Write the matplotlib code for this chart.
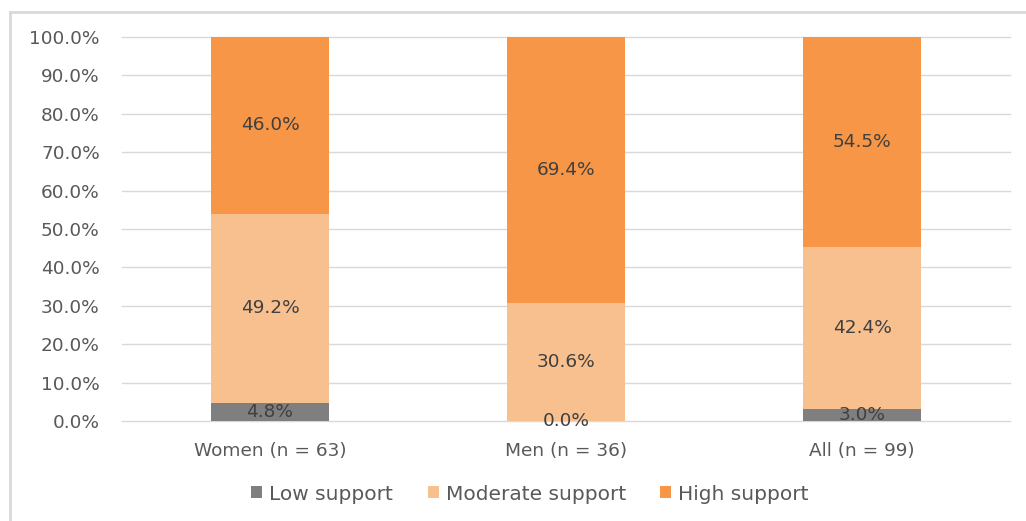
import matplotlib
matplotlib.use("Agg")
import matplotlib.pyplot as plt
from matplotlib.lines import Line2D
import numpy as np

categories = ["Women (n = 63)", "Men (n = 36)", "All (n = 99)"]
series_names = ["Low support", "Moderate support", "High support"]
low = [4.8, 0.0, 3.0]
moderate = [49.2, 30.6, 42.4]
high = [46.0, 69.4, 54.5]
yticks = [0, 10, 20, 30, 40, 50, 60, 70, 80, 90, 100]

colors = ["#7f7f7f", "#f9c08f", "#f79646"]
text_color = "#595959"
fs = 13.3

plt.rcParams["font.family"] = ["DejaVu Sans"]

fig = plt.figure(figsize=(10.26, 5.21), dpi=100)
ax = fig.add_axes([122 / 1026, 1 - 421 / 521, (1010 - 122) / 1026, (421 - 37) / 521])

x = np.arange(len(categories))
width = 0.4
bottom = np.zeros(len(categories))
for name, vals, col in zip(series_names, [low, moderate, high], colors):
    vals = np.array(vals)
    ax.bar(x, vals, width, bottom=bottom, color=col, label=name, zorder=3)
    for xi, b, v in zip(x, bottom, vals):
        ax.text(xi, b + v / 2, f"{v:.1f}%", ha="center", va="center",
                fontsize=fs, color="#404040", zorder=4)
    bottom = bottom + vals

ax.set_xlim(-0.5, 2.5)
ax.set_ylim(0, 100)
ax.set_yticks(yticks)
ax.set_yticklabels([f"{t:.1f}%" for t in yticks])
ax.set_xticks(x)
ax.set_xticklabels(categories)
ax.tick_params(axis="both", length=0, labelsize=fs, colors=text_color)
ax.tick_params(axis="y", pad=16)
ax.tick_params(axis="x", pad=15)
ax.yaxis.grid(True, color="#d9d9d9", linewidth=1.0, zorder=0)
for gl in ax.get_ygridlines():
    gl.set_clip_on(False)
for s in ax.spines.values():
    s.set_visible(False)

leg = fig.legend(loc="center", bbox_to_anchor=(530 / 1026, 1 - 494 / 521), ncol=3,
                 frameon=False, fontsize=14.5, handlelength=0.55, handleheight=0.55,
                 handletextpad=0.35, columnspacing=1.7)
for t in leg.get_texts():
    t.set_color(text_color)

# chart frame
fig.add_artist(Line2D([10 / 1026, 10 / 1026], [0, 1 - 12 / 521],
                      transform=fig.transFigure, color="#d9d9d9", linewidth=2))
fig.add_artist(Line2D([10 / 1026, 1], [1 - 12 / 521, 1 - 12 / 521],
                      transform=fig.transFigure, color="#d9d9d9", linewidth=2))

fig.savefig("out.png", dpi=100)
